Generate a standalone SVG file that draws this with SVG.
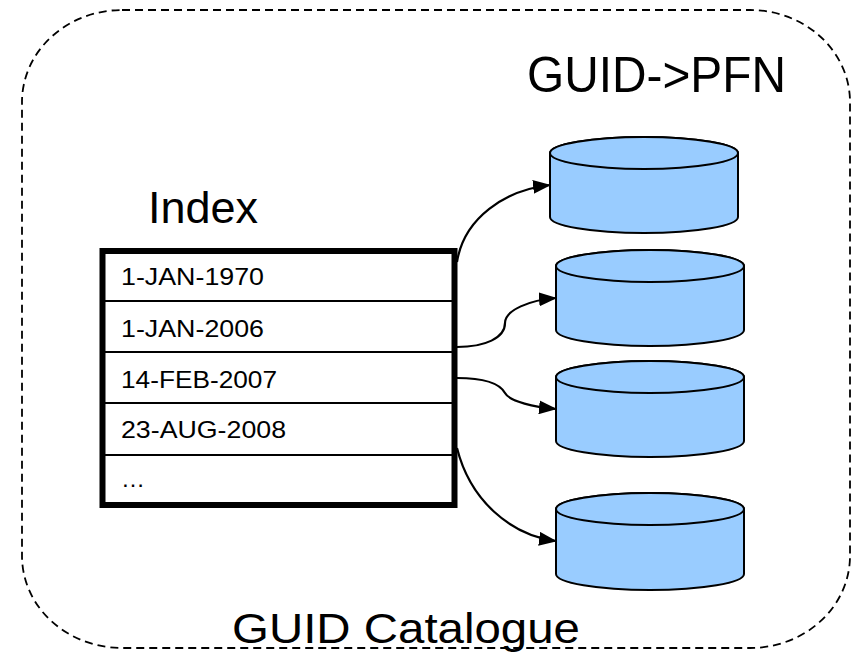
<svg xmlns="http://www.w3.org/2000/svg" width="854" height="654" viewBox="0 0 854 654">
<style>
.t{font-family:"Liberation Sans",Arial,sans-serif;fill:#000}
.row{font-size:24px}
.cyl{fill:#99ccff;stroke:#000;stroke-width:2}
.conn{fill:none;stroke:#000;stroke-width:2.2}
</style>
<defs>
<marker id="ah" markerWidth="18" markerHeight="14" refX="17" refY="7" orient="auto" markerUnits="userSpaceOnUse">
<path d="M0,0 L18,7 L0,14 Z" fill="#000"/>
</marker>
</defs>
<rect width="854" height="654" fill="#fff"/>
<g id="catalogue">
<rect x="22" y="10" width="828" height="638" rx="100" ry="92" fill="none" stroke="#000" stroke-width="1.8" stroke-dasharray="8,5"/>
<text class="t" x="232" y="643" font-size="43" textLength="348" lengthAdjust="spacingAndGlyphs">GUID Catalogue</text>
</g>
<g id="title-pfn">
<text class="t" x="527" y="92" font-size="50" textLength="259" lengthAdjust="spacingAndGlyphs">GUID-&gt;PFN</text>
</g>
<g id="index">
<text class="t" x="148" y="223" font-size="45">Index</text>
<rect x="102.5" y="251" width="352" height="254" fill="#fff" stroke="#000" stroke-width="6"/>
<g stroke="#000" stroke-width="2">
<line x1="104" y1="301" x2="453" y2="301"/>
<line x1="104" y1="352" x2="453" y2="352"/>
<line x1="104" y1="403" x2="453" y2="403"/>
<line x1="104" y1="455" x2="453" y2="455"/>
</g>
<text class="t row" x="121" y="285" textLength="143" lengthAdjust="spacingAndGlyphs">1-JAN-1970</text>
<text class="t row" x="121" y="337" textLength="143" lengthAdjust="spacingAndGlyphs">1-JAN-2006</text>
<text class="t row" x="121" y="388" textLength="156" lengthAdjust="spacingAndGlyphs">14-FEB-2007</text>
<text class="t row" x="121" y="438" textLength="165" lengthAdjust="spacingAndGlyphs">23-AUG-2008</text>
<text class="t row" x="121" y="487">…</text>
</g>
<g id="db1">
<path class="cyl" d="M550,153 L550,217 A94,16 0 0 0 738,217 L738,153 A94,16 0 0 0 550,153 Z"/>
<ellipse class="cyl" cx="644" cy="153" rx="94" ry="16"/>
</g>
<g id="db2">
<path class="cyl" d="M556,266 L556,330 A94,16 0 0 0 744,330 L744,266 A94,16 0 0 0 556,266 Z"/>
<ellipse class="cyl" cx="650" cy="266" rx="94" ry="16"/>
</g>
<g id="db3">
<path class="cyl" d="M556,377 L556,441 A94,16 0 0 0 744,441 L744,377 A94,16 0 0 0 556,377 Z"/>
<ellipse class="cyl" cx="650" cy="377" rx="94" ry="16"/>
</g>
<g id="db4">
<path class="cyl" d="M556,509 L556,574 A94,16 0 0 0 744,574 L744,509 A94,16 0 0 0 556,509 Z"/>
<ellipse class="cyl" cx="650" cy="509" rx="94" ry="16"/>
</g>
<g id="connectors">
<path class="conn" marker-end="url(#ah)" d="M457,262 C464,218 505,190 550,185"/>
<path class="conn" marker-end="url(#ah)" d="M457,347 C485,347 505,338 505,323 C505,310 530,300 556,298"/>
<path class="conn" marker-end="url(#ah)" d="M457,378 C485,378 500,384 505,393 C510,402 535,407 556,409"/>
<path class="conn" marker-end="url(#ah)" d="M457,448 C470,500 510,535 556,541"/>
</g>
</svg>
